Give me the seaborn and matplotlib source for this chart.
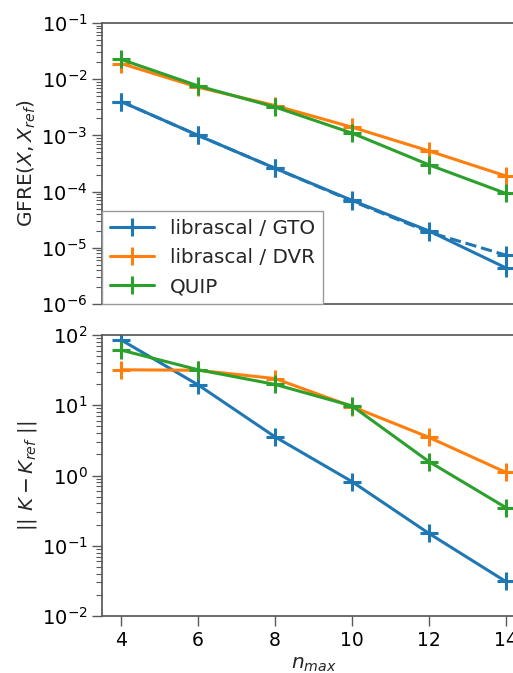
import numpy as np
import pandas as pd
import matplotlib
matplotlib.use("Agg")
import matplotlib.pyplot as plt
import seaborn as sns

nmax = [4, 6, 8, 10, 12, 14]

gfre_gto = [4.0e-3, 1.0e-3, 2.6e-4, 7.0e-5, 2.0e-5, 4.4e-6]
gfre_gto_dashed = [4.0e-3, 1.0e-3, 2.6e-4, 6.8e-5, 1.9e-5, 7.4e-6]
gfre_dvr = [1.9e-2, 7.2e-3, 3.4e-3, 1.4e-3, 5.3e-4, 1.9e-4]
gfre_quip = [2.25e-2, 7.6e-3, 3.2e-3, 1.1e-3, 3.0e-4, 9.3e-5]

kdiff_gto = [85, 19.5, 3.55, 0.82, 0.15, 0.031]
kdiff_dvr = [32, 31.5, 24, 9.6, 3.5, 1.11]
kdiff_quip = [61, 32, 19.8, 9.8, 1.58, 0.35]

labels = ["librascal / GTO", "librascal / DVR", "QUIP"]
colors = ["#1f77b4", "#ff7f0e", "#2ca02c"]

sns.set_theme(style="ticks", rc={
    "axes.edgecolor": "0.35",
    "xtick.color": "0.35",
    "ytick.color": "0.35",
    "xtick.labelcolor": "black",
    "ytick.labelcolor": "black",
    "font.size": 14,
    "axes.labelsize": 14.5,
    "xtick.labelsize": 13.5,
    "ytick.labelsize": 14,
    "legend.fontsize": 14.3,
})
plt.rcParams["font.family"] = ["DejaVu Sans"]

fig = plt.figure(figsize=(5.13, 6.73), dpi=100)
ax1 = fig.add_axes([0.1988, 0.5483, 0.8246, 0.4175])
ax2 = fig.add_axes([0.1988, 0.0847, 0.8246, 0.4175])

def style(c):
    return dict(marker="+", markersize=13, markeredgewidth=2.2, linewidth=2.2,
                markeredgecolor=c, markerfacecolor=c)

for vals, lab, c in zip([gfre_gto, gfre_dvr, gfre_quip], labels, colors):
    sns.lineplot(x=nmax, y=vals, ax=ax1, color=c, label=lab, **style(c))
sns.lineplot(x=nmax, y=gfre_gto_dashed, ax=ax1, color=colors[0],
             linestyle="--", **style(colors[0]))

for vals, c in zip([kdiff_gto, kdiff_dvr, kdiff_quip], colors):
    sns.lineplot(x=nmax, y=vals, ax=ax2, color=c, **style(c))

for ax in (ax1, ax2):
    ax.set_yscale("log")
    ax.set_xlim(3.5, 14.5)
    ax.set_xticks(nmax)
    ax.spines["top"].set_visible(True)
    ax.spines["right"].set_visible(True)
    ax.tick_params(which="major", length=7, width=1)
    ax.tick_params(which="minor", length=4.5, width=0.8)

ax1.set_ylim(1e-6, 1e-1)
ax2.set_ylim(1e-2, 1e2)
ax1.tick_params(axis="x", bottom=False, labelbottom=False)
ax2.tick_params(axis="x", which="minor", bottom=False)

ax1.set_ylabel(r"GFRE$(X, X_{ref})$", labelpad=2)
ax2.set_ylabel(r"$||\ K - K_{ref}\ ||$", labelpad=2)
ax2.set_xlabel(r"$n_{max}$")
ax1.set_xlabel("")

leg = ax1.legend(loc="lower left", borderaxespad=0, fancybox=False,
                 framealpha=1, edgecolor="0.6", handlelength=2.2)
leg.get_frame().set_linewidth(1)

fig.align_ylabels([ax1, ax2])
fig.savefig("out.png", dpi=100)
